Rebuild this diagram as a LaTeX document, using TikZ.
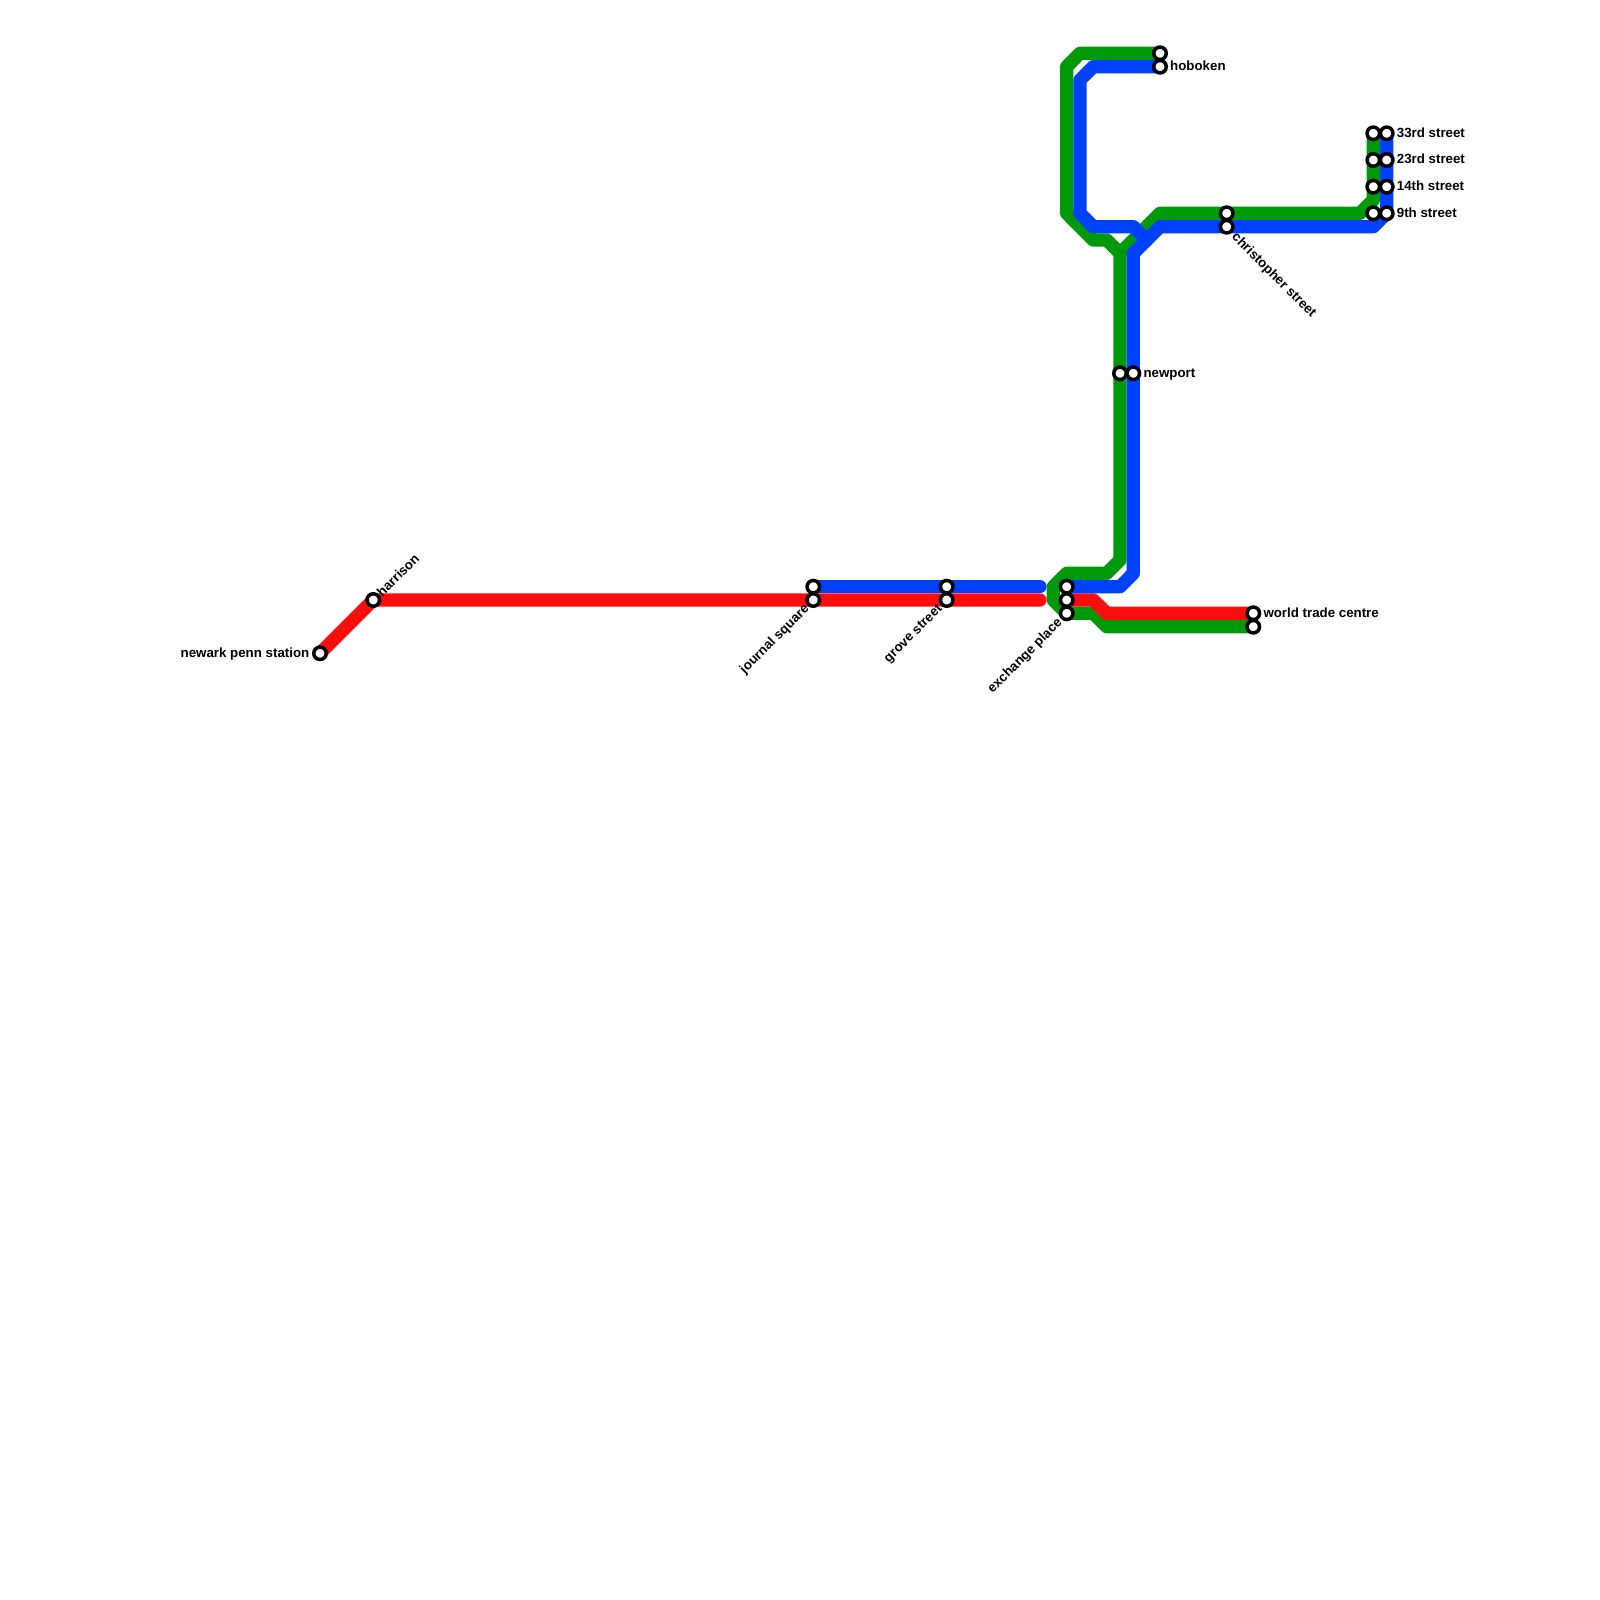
\documentclass[tikz,border=0pt]{standalone}
\usepackage{fontspec}
\setmainfont{Liberation Sans}
\usetikzlibrary{positioning,backgrounds}
\definecolor{pathGreen}{RGB}{0,153,10}
\definecolor{pathBlue}{RGB}{0,64,255}
\definecolor{pathRed}{RGB}{255,13,13}
\tikzset{
  lineln/.style={line width=13.3pt, line cap=round, line join=round},
  stn/.style={circle, draw=black, fill=white, line width=3.5pt, minimum size=12.5pt, inner sep=0pt},
  lbl/.style={font=\fontsize{13.3}{15}\selectfont\bfseries, inner sep=0pt, text=black, text height=11pt, text depth=3pt},
}
\begin{document}
\begin{tikzpicture}[x=1pt,y=-1pt]
    \useasboundingbox (0,0) rectangle (1600,1600);
    % stations
    \node[stn] (newark) at (320,653.3) {};
    \node[stn] (harrison) at (373.3,600) {};
    \node[stn] (journalB) at (813.3,586.7) {};
    \node[stn] (journalR) at (813.3,600) {};
    \node[stn] (groveB) at (946.7,586.7) {};
    \node[stn] (groveR) at (946.7,600) {};
    \node[stn] (exchangeB) at (1066.7,586.7) {};
    \node[stn] (exchangeR) at (1066.7,600) {};
    \node[stn] (exchangeG) at (1066.7,613.3) {};
    \node[stn] (wtcR) at (1253.3,613.3) {};
    \node[stn] (wtcG) at (1253.3,626.7) {};
    \node[stn] (newportG) at (1120,373.3) {};
    \node[stn] (newportB) at (1133.3,373.3) {};
    \node[stn] (hobokenG) at (1160,53.3) {};
    \node[stn] (hobokenB) at (1160,66.7) {};
    \node[stn] (christopherG) at (1226.7,213.3) {};
    \node[stn] (christopherB) at (1226.7,226.7) {};
    \node[stn] (ninthG) at (1373.3,213.3) {};
    \node[stn] (ninthB) at (1386.7,213.3) {};
    \node[stn] (fourteenG) at (1373.3,186.7) {};
    \node[stn] (fourteenB) at (1386.7,186.7) {};
    \node[stn] (twentythreeG) at (1373.3,160) {};
    \node[stn] (twentythreeB) at (1386.7,160) {};
    \node[stn] (thirtythreeG) at (1373.3,133.3) {};
    \node[stn] (thirtythreeB) at (1386.7,133.3) {};
    \coordinate (stubB) at (1040,586.7);
    \coordinate (stubR) at (1040,600);
    \coordinate (mergeB) at (1146.7,240);
    % lines
    \begin{scope}[on background layer]
      \fill[white] (0,0) rectangle (1600,1600);
      \draw[lineln, pathGreen] (hobokenG.center) -- (1080,53.3) -- (1066.7,66.7) -- (1066.7,213.3)
        -- (1093.3,240) -- (1106.7,240) -- (1120,253.3) -- (newportG.center) -- (1120,560)
        -- (1106.7,573.3) -- (1066.7,573.3) -- (1053.3,586.7) -- (1053.3,600) -- (exchangeG.center)
        -- (1093.3,613.3) -- (1106.7,626.7) -- (wtcG.center);
      \draw[lineln, pathGreen] (1120,253.3) -- (1160,213.3) -- (christopherG.center) -- (1360,213.3)
        -- (1373.3,200) -- (thirtythreeG.center);
      \draw[lineln, pathRed] (newark.center) -- (harrison.center) -- (journalR.center) -- (groveR.center) -- (stubR);
      \draw[lineln, pathRed] (exchangeR.center) -- (1093.3,600) -- (1106.7,613.3) -- (wtcR.center);
      \draw[lineln, pathBlue] (journalB.center) -- (groveB.center) -- (stubB);
      \draw[lineln, pathBlue] (exchangeB.center) -- (1120,586.7) -- (1133.3,573.3) -- (newportB.center)
        -- (1133.3,253.3) -- (1160,226.7) -- (christopherB.center) -- (1373.3,226.7) -- (ninthB.center)
        -- (thirtythreeB.center);
      \draw[lineln, pathBlue] (hobokenB.center) -- (1093.3,66.7) -- (1080,80) -- (1080,213.3)
        -- (1093.3,226.7) -- (1133.3,226.7) -- (mergeB);
    \end{scope}
    % labels
    \node[lbl, left=2.5pt of newark] (newarkLbl) {newark penn station};
    \node[lbl, rotate=45, anchor=west] (harrisonLbl) at (379.5,594.5) {harrison};
    \node[lbl, rotate=45, anchor=east] (journalLbl) at (807,606.5) {journal square};
    \node[lbl, rotate=45, anchor=east] (groveLbl) at (940,606.5) {grove street};
    \node[lbl, rotate=45, anchor=east] (exchangeLbl) at (1060,620.5) {exchange place};
    \node[lbl, right=2pt of wtcR] (wtcLbl) {world trade centre};
    \node[lbl, right=2pt of newportB] (newportLbl) {newport};
    \node[lbl, right=2pt of hobokenB] (hobokenLbl) {hoboken};
    \node[lbl, rotate=-45, anchor=west] (christopherLbl) at (1234,235) {christopher street};
    \node[lbl, right=2pt of ninthB] (ninthLbl) {9th street};
    \node[lbl, right=2pt of fourteenB] (fourteenLbl) {14th street};
    \node[lbl, right=2pt of twentythreeB] (twentythreeLbl) {23rd street};
    \node[lbl, right=2pt of thirtythreeB] (thirtythreeLbl) {33rd street};
\end{tikzpicture}
\end{document}
